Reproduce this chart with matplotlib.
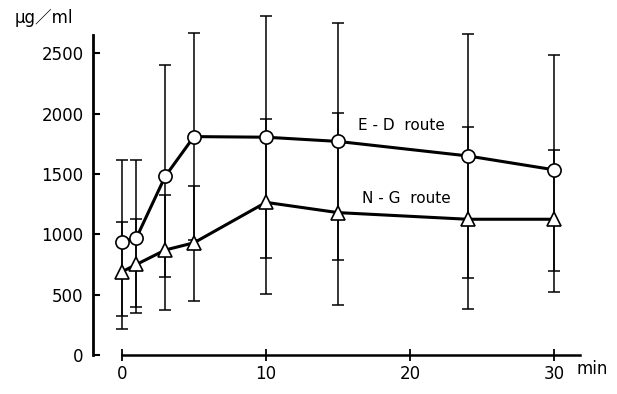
import numpy as np
import matplotlib.pyplot as plt

plt.rcParams['font.family'] = ['DejaVu Sans', 'Noto Sans CJK JP']

# sampling times (min)
t = np.array([0, 1, 3, 5, 10, 15, 24, 30])

# E-D route: mean and error bar ends (ug/ml)
ed_mean = np.array([940, 970, 1480, 1810, 1805, 1770, 1650, 1535])
ed_high = np.array([1620, 1620, 2400, 2665, 2810, 2755, 2660, 2490])
ed_low = np.array([215, 350, 650, 955, 805, 785, 635, 695])

# N-G route: mean and error bar ends (ug/ml)
ng_mean = np.array([690, 750, 870, 930, 1265, 1180, 1125, 1125])
ng_high = np.array([1100, 1125, 1330, 1400, 1955, 2005, 1890, 1695])
ng_low = np.array([320, 400, 375, 450, 505, 415, 385, 520])

yticks = [0, 500, 1000, 1500, 2000, 2500]
xticks = [0, 10, 20, 30]

fig = plt.figure(figsize=(6.17, 3.94), dpi=100)
ax = fig.add_axes([0.151, 0.099, 0.7935, 0.8728])

series = [
    (ed_mean, ed_low, ed_high, 'o'),
    (ng_mean, ng_low, ng_high, '^'),
]
for mean, low, high, marker in series:
    ax.errorbar(t, mean, yerr=[mean - low, high - mean], fmt='none',
                ecolor='black', elinewidth=1.1, capsize=4.5, capthick=1.1,
                zorder=2)
    ax.plot(t, mean, color='black', lw=2.2, marker=marker, ms=9.5,
            mfc='white', mec='black', mew=1.2, zorder=3)

ax.set_xlim(-2, 32)
ax.set_ylim(0, 2850)

for side in ['top', 'right']:
    ax.spines[side].set_visible(False)
ax.spines['left'].set_bounds(0, 2650)
ax.spines['left'].set_linewidth(2)
ax.spines['bottom'].set_bounds(0, 31.8)
ax.spines['bottom'].set_linewidth(1.8)

ax.set_yticks(yticks)
ax.set_xticks(xticks)
ax.tick_params(axis='y', direction='in', length=5, width=1.5, pad=7,
               labelsize=12)
ax.tick_params(axis='x', direction='inout', length=8, width=1.3, pad=3,
               labelsize=12)

ax.text(16.4, 1906, 'E - D  route', fontsize=11, ha='left', va='center')
ax.text(16.7, 1301, 'N - G  route', fontsize=11, ha='left', va='center')

fig.text(15 / 617, 1 - 18 / 394, 'μg／ml', fontsize=12, va='center')
fig.text(577 / 617, 1 - 369 / 394, 'min', fontsize=12, va='center')

fig.savefig('out.png', dpi=100)
